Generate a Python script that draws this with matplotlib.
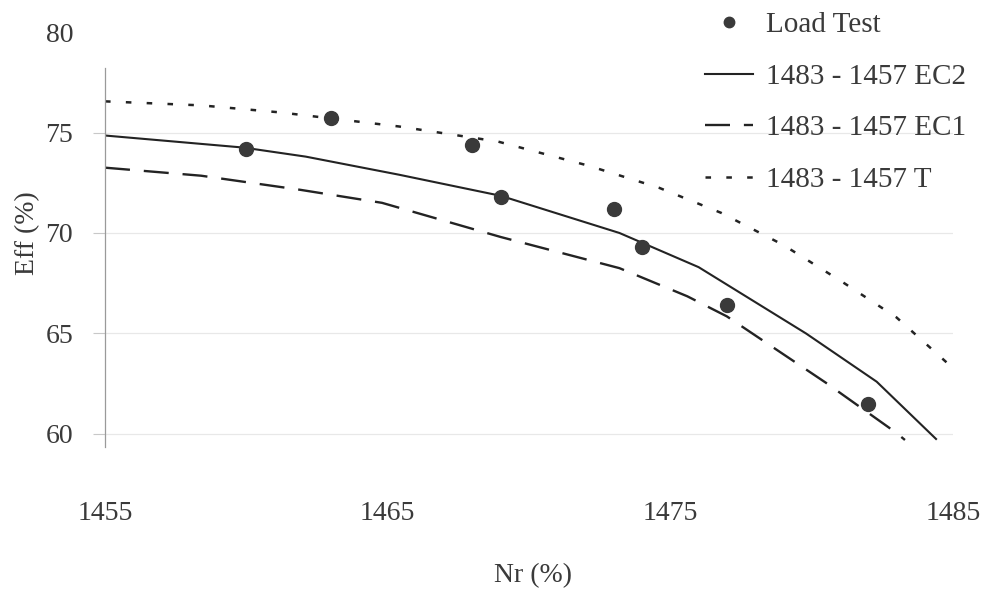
import matplotlib
matplotlib.use("Agg")
import matplotlib.pyplot as plt

plt.rcParams["font.family"] = ["Liberation Serif", "DejaVu Serif"]
plt.rcParams["lines.scale_dashes"] = False

# Measured load-test points
load_nr = [1460, 1463, 1468, 1469, 1473, 1474, 1477, 1482]
load_eff = [74.2, 75.7, 74.4, 71.8, 71.2, 69.3, 66.4, 61.5]

# Equivalent-circuit model 2
ec2_nr = [1455, 1459.9, 1462.1, 1465.4, 1469.0, 1473.2, 1476.0, 1479.8, 1482.3, 1484.4]
ec2_eff = [74.85, 74.25, 73.8, 72.9, 71.85, 70.0, 68.3, 65.0, 62.6, 59.75]

# Equivalent-circuit model 1
ec1_nr = [1455, 1458.4, 1461.9, 1464.8, 1469.0, 1473.2, 1475.6, 1477.0, 1480.5, 1483.0, 1483.3]
ec1_eff = [73.25, 72.85, 72.15, 71.5, 69.8, 68.25, 66.85, 65.85, 62.55, 60.05, 59.7]

# T model
t_nr = [1455, 1458.4, 1461.2, 1463.9, 1465.4, 1468.9, 1472.1, 1474.6, 1476.8, 1479.0, 1481.1, 1483.0, 1484.9]
t_eff = [76.55, 76.35, 76.0, 75.55, 75.3, 74.55, 73.35, 72.25, 71.0, 69.4, 67.55, 65.8, 63.4]

y_ticks = [60, 65, 70, 75, 80]
x_ticks = [1455, 1465, 1475, 1485]

text_color = "#3a3a3a"
line_color = "#232323"

fig = plt.figure(figsize=(9.89, 5.93), dpi=100)
ax = fig.add_axes([0.1062, 0.2411, 0.8574, 0.7049])

ax.set_xlim(1455, 1485)
ax.set_ylim(59.2, 80)

# faint horizontal gridlines
for v in y_ticks[:-1]:
    ax.axhline(v, color="#e8e8e8", lw=0.9, zorder=0)

ax.plot(ec2_nr, ec2_eff, color=line_color, lw=1.5, solid_joinstyle="miter",
        label="1483 - 1457 EC2")
ax.plot(ec1_nr, ec1_eff, color=line_color, lw=1.7, dashes=(18, 10),
        label="1483 - 1457 EC1")
ax.plot(t_nr, t_eff, color=line_color, lw=1.8, dashes=(4, 11),
        label="1483 - 1457 T")
ax.plot(load_nr, load_eff, "o", color="#3a3a3a", ms=10, mec="#3a3a3a",
        label="Load Test", zorder=5)

for s in ["top", "right", "bottom"]:
    ax.spines[s].set_visible(False)
ax.spines["left"].set_color("#9a9a9a")
ax.spines["left"].set_linewidth(0.9)
ax.spines["left"].set_bounds(59.36, 78.2)

ax.set_yticks(y_ticks)
ax.set_xticks(x_ticks)
ax.tick_params(axis="y", direction="out", length=9, width=0.8, color="#c8c8c8",
               pad=14, labelsize=20, labelcolor=text_color)
ax.tick_params(axis="x", length=0, pad=37, labelsize=20, labelcolor=text_color)
ax.yaxis.get_ticklines()[-2].set_visible(False)  # no tick mark at 80

fig.text(28 / 989, 1 - 233 / 593, "Eff (%)", rotation=90, ha="center",
         va="center", fontsize=20, color=text_color)
fig.text(533 / 989, 1 - 576 / 593, "Nr (%)", ha="center", va="center",
         fontsize=20, color=text_color)

handles, labels = ax.get_legend_handles_labels()
order = [3, 0, 1, 2]
leg = ax.legend([handles[i] for i in order], [labels[i] for i in order],
                loc="upper left", bbox_to_anchor=(705 / 989, 1 - 12 / 593),
                bbox_transform=fig.transFigure, frameon=False, fontsize=21,
                handlelength=1.65, handletextpad=0.45, labelspacing=0.86,
                borderpad=0, borderaxespad=0, markerscale=0.75)
for t in leg.get_texts():
    t.set_color(text_color)

fig.savefig("out.png", dpi=100)
